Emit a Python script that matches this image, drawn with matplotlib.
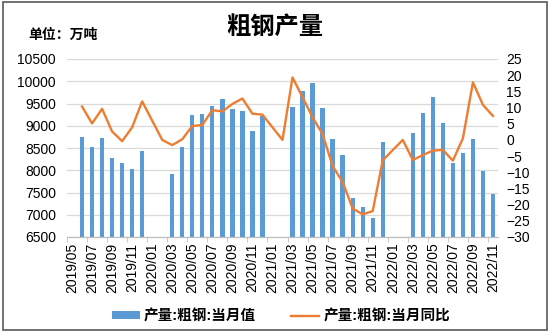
import numpy as np
import pandas as pd
import matplotlib
matplotlib.use("Agg")
import matplotlib.pyplot as plt
from matplotlib.patches import Rectangle
from matplotlib.lines import Line2D
from matplotlib.patches import Patch

plt.rcParams['font.family'] = ['Liberation Sans', 'Noto Sans CJK SC']
plt.rcParams['axes.unicode_minus'] = True

months = [p.strftime('%Y/%m') for p in pd.period_range('2019-05', '2022-11', freq='M')]

output = [np.nan, 8750, 8520, 8725, 8285, 8160, 8035, 8430,
          np.nan, 0, 7905, 8515, 9235, 9265, 9445, 9605, 9370, 9340, 8890, 9220,
          np.nan, 0, 9415, 9790, 9955, 9400, 8695, 8335, 7385, 7175, 6935, 8625,
          np.nan, 0, 8830, 9280, 9655, 9070, 8155, 8380, 8695, 7980, 7460]
yoy = [np.nan, 10.3, 5.1, 9.6, 2.6, -0.4, 3.9, 11.9,
       np.nan, 0, -1.6, 0.2, 4.3, 4.6, 9.2, 8.8, 11.1, 12.8, 8.1, 7.8,
       np.nan, 0, 19.3, 13.2, 7.0, 1.8, -8.1, -13.0, -21.2, -23.0, -22.0, -6.3,
       np.nan, 0, -6.2, -4.7, -3.3, -3.1, -6.4, 0.5, 17.8, 10.8, 7.4]

label_bar = '产量:粗钢:当月值'
label_line = '产量:粗钢:当月同比'
title = '粗钢产量'
unit = '单位：万吨'

blue = '#5B9BD5'
orange = '#ED7D31'

fig = plt.figure(figsize=(5.5, 3.35), dpi=100)
ax = fig.add_axes([67/550, 1-237/335, (498-67)/550, (237-59)/335])
ax2 = ax.twinx()

x = np.arange(len(months))
ax.bar(x, output, width=0.43, color=blue, zorder=2)
yoy_arr = np.array(yoy, dtype=float)
m = ~np.isnan(yoy_arr)
ax2.plot(x[m], yoy_arr[m], color=orange, lw=1.7, zorder=3)

ax.set_xlim(-0.5, len(months)-0.5)
ax.set_ylim(6500, 10500)
ax.set_yticks(np.arange(6500, 10501, 500))
ax2.set_ylim(-30, 25)
ax2.set_yticks(np.arange(-30, 26, 5))

ax.set_xticks(x[::2])
ax.set_xticklabels(months[::2], rotation=90, fontsize=10)
ax.set_xticks(np.arange(-0.5, len(months), 2), minor=True)
ax.tick_params(axis='x', which='major', length=0, pad=4)
ax.tick_params(axis='x', which='minor', length=3.5, color='#BFBFBF')
ax.tick_params(axis='y', length=0, labelsize=10, pad=8)
ax2.tick_params(axis='y', length=0, labelsize=10, pad=6)

ax.grid(axis='y', color='#D9D9D9', lw=0.9, zorder=0)
ax.set_axisbelow(True)
for a in (ax, ax2):
    for s in ('top', 'left', 'right'):
        a.spines[s].set_visible(False)
    a.spines['bottom'].set_color('#BFBFBF')

fig.text(0.5, 1-28/335, title, ha='center', va='center', fontsize=17.5, fontweight='bold')
fig.text(28/550, 1-35/335, unit, ha='left', va='center', fontsize=10, fontweight='bold')

handles = [Patch(facecolor=blue, edgecolor='none'), Line2D([], [], color=orange, lw=1.7)]
fig.legend(handles, [label_bar, label_line], loc='center', bbox_to_anchor=(281/550, 1-316/335),
           ncol=2, frameon=False, prop={'size': 10.5, 'weight': 'bold'},
           handlelength=1.9, handleheight=0.45,
           columnspacing=2.4, handletextpad=0.3)

fig.patches.append(Rectangle((3/550, 1-330/335), 544/550, 328/335, transform=fig.transFigure,
                             fill=False, edgecolor='#595959', lw=1.2))

fig.savefig('out.png', dpi=100)
